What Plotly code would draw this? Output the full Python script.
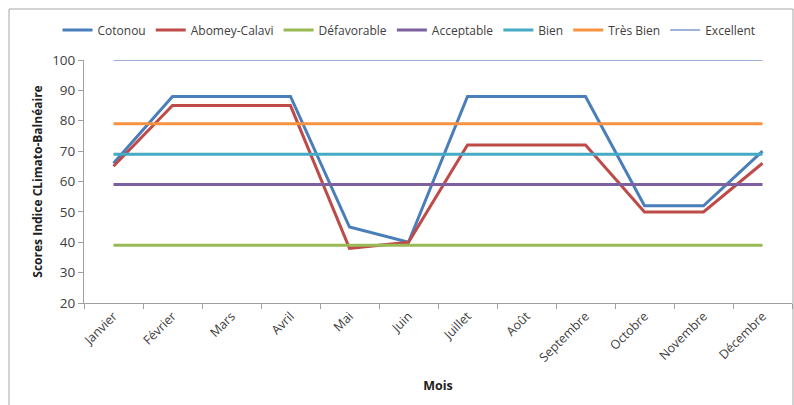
import plotly.graph_objects as go

months = ["Janvier", "Février", "Mars", "Avril", "Mai", "Juin", "Juillet",
          "Août", "Septembre", "Octobre", "Novembre", "Décembre"]
cotonou = [66, 88, 88, 88, 45, 40, 88, 88, 88, 52, 52, 70]
abomey = [65, 85, 85, 85, 38, 40, 72, 72, 72, 50, 50, 66]
defavorable = [39] * 12
acceptable = [59] * 12
bien = [69] * 12
tres_bien = [79] * 12
excellent = [100] * 12

series = [
    ("Cotonou", cotonou, "#4A7EBB", 3),
    ("Abomey-Calavi", abomey, "#BE4B48", 3),
    ("Défavorable", defavorable, "#98B954", 3),
    ("Acceptable", acceptable, "#7D60A0", 3),
    ("Bien", bien, "#46AAC5", 3),
    ("Très Bien", tres_bien, "#F69240", 3),
    ("Excellent", excellent, "#9DB3DB", 2),
]

fig = go.Figure()
for name, vals, color, w in series:
    fig.add_trace(go.Scatter(x=months, y=vals, name=name, mode="lines",
                             line=dict(color=color, width=w)))

W, H = 794, 405
L, R, T, B = 84, 2, 60, 102
pw, ph = W - L - R, H - T - B

fig.update_layout(
    width=W, height=H,
    margin=dict(l=L, r=R, t=T, b=B),
    paper_bgcolor="white", plot_bgcolor="white",
    font=dict(family="Open Sans, sans-serif", size=13, color="#404040"),
    legend=dict(orientation="h", x=(409 - L) / pw, xanchor="center",
                y=1 + 30 / ph, yanchor="middle",
                font=dict(size=12, color="#404040"),
                itemwidth=30, tracegroupgap=0),
    xaxis=dict(
        showgrid=False, showline=True, linecolor="#A0A0A0", linewidth=1,
        ticks="outside", tickcolor="#A0A0A0", ticklen=5, tickson="boundaries",
        tickangle=-45, tickfont=dict(size=12.5, color="#404040"),
        title=dict(text="<b>Mois</b>", font=dict(size=12.5, color="#202020"), standoff=16),
        range=[-0.5, 11.5],
    ),
    yaxis=dict(
        range=[20, 100], dtick=10, showgrid=False, zeroline=False,
        showline=True, linecolor="#A0A0A0", linewidth=1,
        ticks="outside", tickcolor="#A0A0A0", ticklen=5,
        tickfont=dict(size=13.5, color="#404040"),
        title=dict(text="<b>Scores Indice CLimato-Balnéaire</b>",
                   font=dict(size=12, color="#202020"), standoff=6),
    ),
    shapes=[dict(type="rect", xref="paper", yref="paper",
                 x0=(9 - L) / pw, x1=(793 - L) / pw,
                 y0=-(410 - (T + ph)) / ph,
                 y1=1 + (T - 9) / ph,
                 line=dict(color="#A6A6A6", width=1), layer="below")],
)

fig.write_html("out.html")
